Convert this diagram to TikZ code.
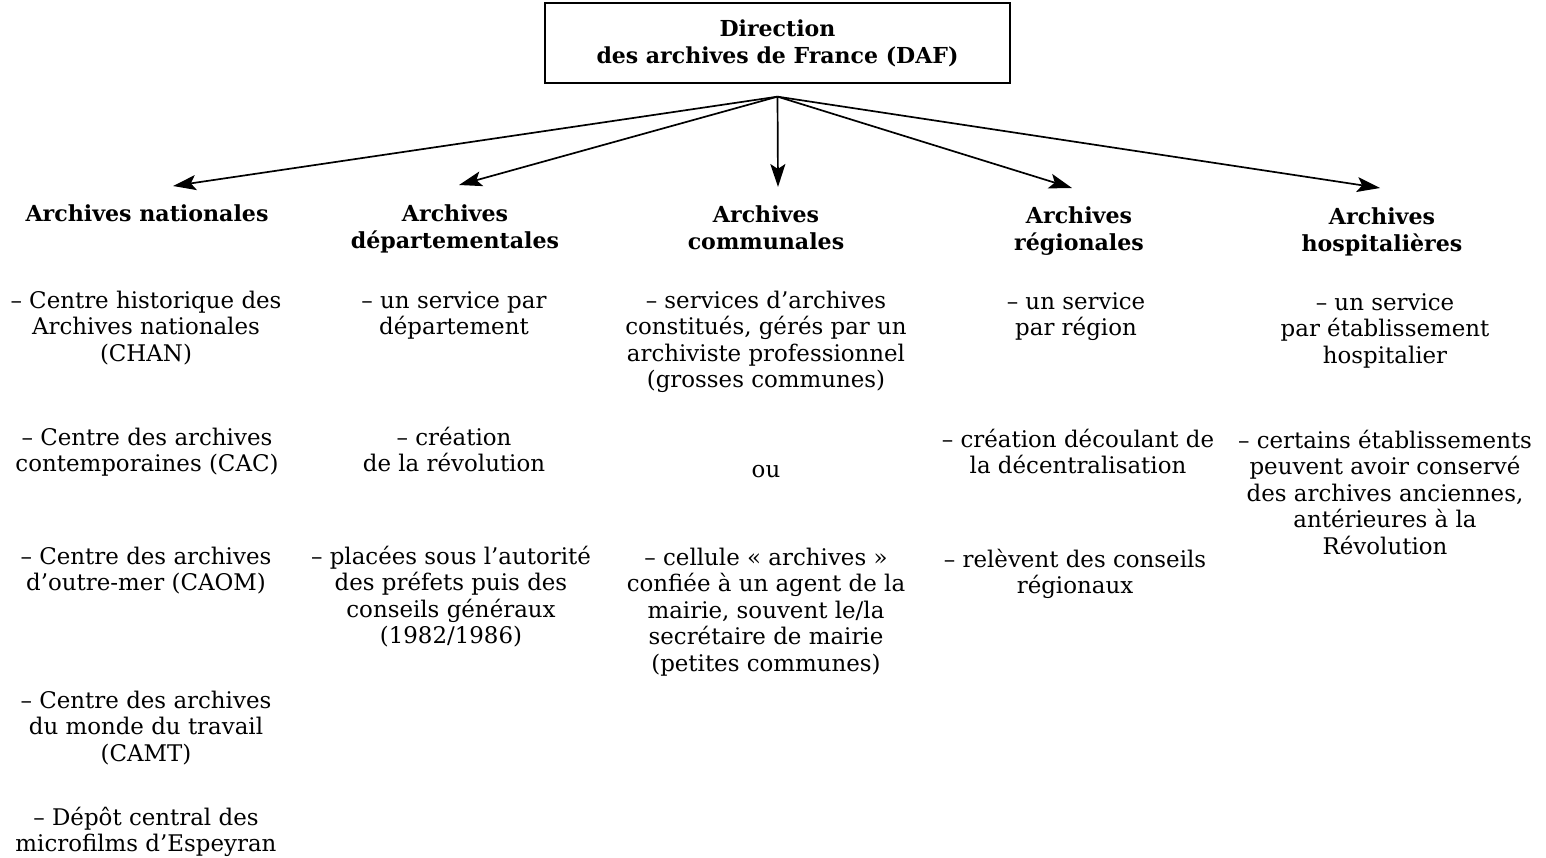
\documentclass[tikz,border=0pt]{standalone}
\usepackage{fontspec}
\setmainfont{DejaVu Serif}
\usetikzlibrary{arrows.meta}
\newlength\refw
\begin{document}
\settowidth\refw{\fontsize{10pt}{12pt}\selectfont – Centre historique des}%
\pgfmathsetmacro\bodyfs{10*271/\refw}%
\settowidth\refw{\fontsize{10pt}{12pt}\selectfont\bfseries Archives nationales}%
\pgfmathsetmacro\headfs{10*243/\refw}%
\settowidth\refw{\fontsize{10pt}{12pt}\selectfont\bfseries des archives de France (DAF)}%
\pgfmathsetmacro\titlefs{10*362/\refw}%
\begin{tikzpicture}[x=1pt,y=-1pt]
\tikzset{
  body/.style={font=\fontsize{\bodyfs pt}{26.5pt}\selectfont, align=center, anchor=base, inner sep=0pt},
  head/.style={font=\fontsize{\headfs pt}{27pt}\selectfont\bfseries, align=center, anchor=base, inner sep=0pt},
  titlebox/.style={draw, line width=1.3pt, minimum width=465pt, minimum height=80pt, inner sep=0pt,
    font=\fontsize{\titlefs pt}{27pt}\selectfont\bfseries, align=center},
  conn/.style={line width=1.7pt, -{Stealth[length=23pt,width=15pt,inset=5pt]}}
}
\def\ls{26.5}
\useasboundingbox (0,0) rectangle (1546,857);
\fill[white] (0,0) rectangle (1546,857);

% title
\node[titlebox] (daf) at (777.5,43) {Direction\\des archives de France (DAF)};
\coordinate (hub) at ([yshift=-13pt]daf.south);

% arrow tips
\coordinate (t1) at (173,186);
\coordinate (t2) at (459,185);
\coordinate (t3) at (778,187);
\coordinate (t4) at (1072,188);
\coordinate (t5) at (1380,188);
\foreach \t in {t1,t2,t3,t4,t5}{\draw[conn] (hub) -- (\t);}

% column 1 (anchor = baseline of last line)
\node[head] (h1) at (147,221) {Archives nationales};
\node[body] (n11) at (146,{308+2*\ls}) {– Centre historique des\\Archives nationales\\(CHAN)};
\node[body] (n12) at (147,{445+\ls}) {– Centre des archives\\contemporaines (CAC)};
\node[body] (n13) at (146,{564+\ls}) {– Centre des archives\\d’outre-mer (CAOM)};
\node[body] (n14) at (146,{708+2*\ls}) {– Centre des archives\\du monde du travail\\(CAMT)};
\node[body] (n15) at (146,{825+\ls}) {– Dépôt central des\\microfilms d’Espeyran};

% column 2
\node[head] (h2) at (455,{221+27}) {Archives\\départementales};
\node[body] (n21) at (454,{308+\ls}) {– un service par\\département};
\node[body] (n22) at (454,{445+\ls}) {– création\\de la révolution};
\node[body] (n23) at (451,{564+3*\ls}) {– placées sous l’autorité\\des préfets puis des\\conseils généraux\\(1982/1986)};

% column 3
\node[head] (h3) at (766,{222+27}) {Archives\\communales};
\node[body] (n31) at (766,{308+3*\ls}) {– services d’archives\\constitués, gérés par un\\archiviste professionnel\\(grosses communes)};
\node[body] (n32) at (766,477) {ou};
\node[body] (n33) at (766,{565+4*\ls}) {– cellule « archives »\\confiée à un agent de la\\mairie, souvent le/la\\secrétaire de mairie\\(petites communes)};

% column 4
\node[head] (h4) at (1079,{223+27}) {Archives\\régionales};
\node[body] (n41) at (1076,{309+\ls}) {– un service\\par région};
\node[body] (n42) at (1078,{447+\ls}) {– création découlant de\\la décentralisation};
\node[body] (n43) at (1075,{567+\ls}) {– relèvent des conseils\\régionaux};

% column 5
\node[head] (h5) at (1382,{224+27}) {Archives\\hospitalières};
\node[body] (n51) at (1385,{310+2*\ls}) {– un service\\par établissement\\hospitalier};
\node[body] (n52) at (1385,{448+4*\ls}) {– certains établissements\\peuvent avoir conservé\\des archives anciennes,\\antérieures à la\\Révolution};
\end{tikzpicture}
\end{document}
